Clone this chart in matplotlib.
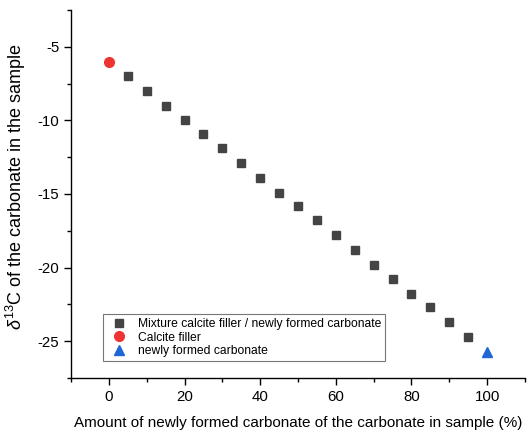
import matplotlib
matplotlib.use("Agg")
import matplotlib.pyplot as plt
from matplotlib.ticker import MultipleLocator

# data
mix_x = [5, 10, 15, 20, 25, 30, 35, 40, 45, 50, 55, 60, 65, 70, 75, 80, 85, 90, 95]
mix_y = [-7.0, -8.0, -9.0, -10.0, -10.9, -11.9, -12.9, -13.9, -14.9, -15.8,
         -16.8, -17.8, -18.8, -19.8, -20.8, -21.8, -22.7, -23.7, -24.7]
filler_x = [0]
filler_y = [-6.0]
new_x = [100]
new_y = [-25.7]

plt.rcParams['font.family'] = ['Liberation Sans', 'DejaVu Sans']
plt.rcParams['axes.unicode_minus'] = False
plt.rcParams['mathtext.fontset'] = 'custom'
plt.rcParams['mathtext.rm'] = 'Liberation Sans'
plt.rcParams['mathtext.it'] = 'Liberation Sans:italic'

fig = plt.figure(figsize=(5.27, 4.34), dpi=100)
ax = fig.add_axes([0.135, 0.129, 0.861, 0.848])

ax.plot(mix_x, mix_y, 's', color='#444444', ms=6.3, ls='none',
        label='Mixture calcite filler / newly formed carbonate')
ax.plot(filler_x, filler_y, 'o', color='#ee3333', ms=7, ls='none',
        label='Calcite filler')
ax.plot(new_x, new_y, '^', color='#1f66d6', ms=7, ls='none',
        label='newly formed carbonate')

ax.set_xlim(-10, 110)
ax.set_ylim(-27.5, -2.5)
ax.xaxis.set_major_locator(MultipleLocator(20))
ax.xaxis.set_minor_locator(MultipleLocator(10))
ax.yaxis.set_major_locator(MultipleLocator(5))
ax.yaxis.set_minor_locator(MultipleLocator(2.5))

for s in ['top', 'right']:
    ax.spines[s].set_visible(False)
for s in ['left', 'bottom']:
    ax.spines[s].set_linewidth(1.0)

ax.tick_params(which='major', direction='out', length=5, width=1, labelsize=10.8)
ax.tick_params(which='minor', direction='out', length=3, width=1)

ax.set_xlabel('Amount of newly formed carbonate of the carbonate in sample (%)',
              fontsize=11, labelpad=9)
ax.set_ylabel(r'$\mathit{\delta}^{13}$C of the carbonate in the sample',
              fontsize=13, labelpad=-2)
ax.yaxis.set_label_coords(-0.095, 0.52)

leg = ax.legend(loc='lower left', bbox_to_anchor=(0.07, 0.046), fontsize=8.7,
                frameon=True, fancybox=False, edgecolor='#555555',
                handletextpad=0.6, borderpad=0.3, labelspacing=0.15,
                handlelength=2.0, borderaxespad=0)
leg.get_frame().set_linewidth(0.8)

fig.savefig('out.png', dpi=100)
